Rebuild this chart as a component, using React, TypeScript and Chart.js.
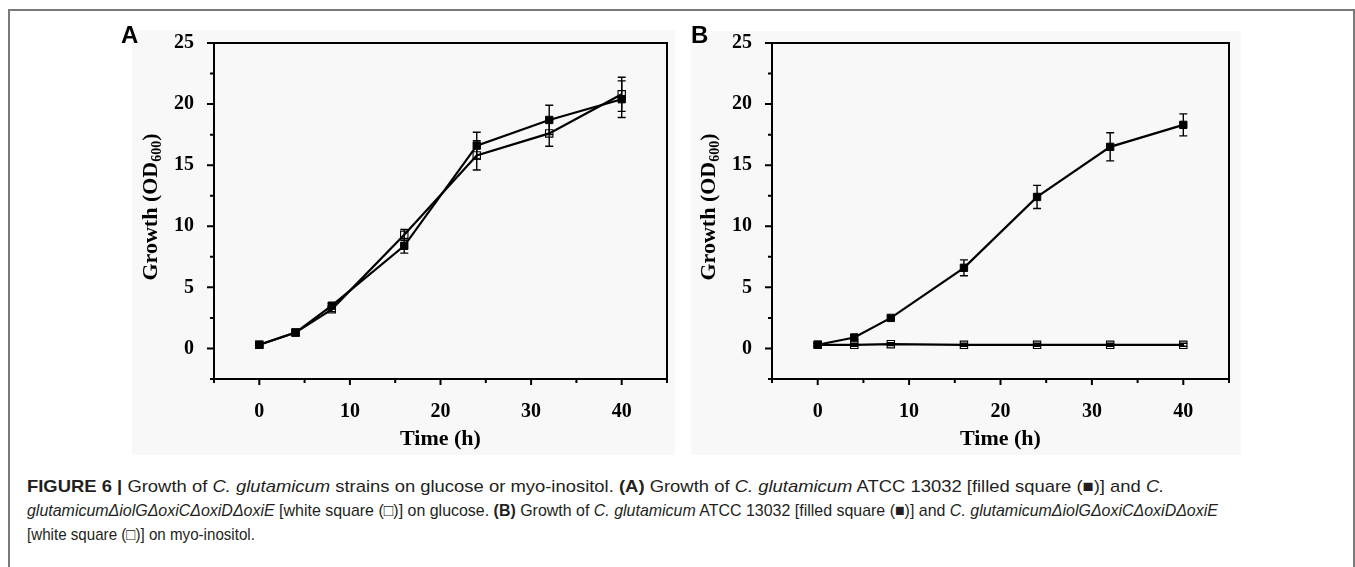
import React, { useEffect, useRef, useLayoutEffect, useState } from 'react';
import { Chart, registerables } from 'chart.js';
Chart.register(...registerables);

// ---- data ----
const timePoints = [0, 4, 8, 16, 24, 32, 40];
const xTickLabels = [0, 10, 20, 30, 40];
const yTickLabels = [0, 5, 10, 15, 20, 25];

const glucoseWT = [0.3, 1.3, 3.5, 8.4, 16.6, 18.7, 20.4];
const glucoseWTErr = [0.15, 0.2, 0.2, 0.6, 1.1, 1.2, 1.5];
const glucoseMut = [0.3, 1.3, 3.2, 9.3, 15.8, 17.6, 20.8];
const glucoseMutErr = [0.15, 0.2, 0.2, 0.45, 1.2, 1.05, 1.4];

const inositolWT = [0.3, 0.9, 2.5, 6.6, 12.4, 16.5, 18.3];
const inositolWTErr = [0.1, 0.15, 0.15, 0.65, 0.95, 1.15, 0.9];
const inositolMut = [0.3, 0.3, 0.35, 0.3, 0.3, 0.3, 0.3];
const inositolMutErr = [0.12, 0.12, 0.12, 0.12, 0.12, 0.12, 0.12];

const xLabel = 'Time (h)';
const yLabelMain = 'Growth (OD';
const yLabelSub = '600';
const yLabelEnd = ')';

const SERIF = '"Liberation Serif", "Times New Roman", serif';

const framePlugin = {
  id: 'framePlugin',
  afterDatasetsDraw(chart: any) {
    const ctx = chart.ctx;
    const ys = chart.scales.y;
    ctx.save();
    ctx.strokeStyle = '#000';
    ctx.lineWidth = 1.4;
    chart.data.datasets.forEach((ds: any, i: number) => {
      const meta = chart.getDatasetMeta(i);
      meta.data.forEach((pt: any, j: number) => {
        const v = ds.data[j].y;
        const e = ds.errors[j];
        const x = pt.x;
        const y1 = ys.getPixelForValue(v + e);
        const y2 = ys.getPixelForValue(v - e);
        ctx.beginPath();
        ctx.moveTo(x, y1);
        ctx.lineTo(x, y2);
        ctx.moveTo(x - 4, y1);
        ctx.lineTo(x + 4, y1);
        ctx.moveTo(x - 4, y2);
        ctx.lineTo(x + 4, y2);
        ctx.stroke();
      });
    });
    ctx.restore();
  },
  afterDraw(chart: any) {
    const ctx = chart.ctx;
    const a = chart.chartArea;
    const xs = chart.scales.x;
    const ys = chart.scales.y;
    ctx.save();
    ctx.strokeStyle = '#000';
    ctx.lineWidth = 2;
    ctx.strokeRect(a.left, a.top, a.right - a.left, a.bottom - a.top);
    ctx.beginPath();
    ys.ticks.forEach((t: any) => {
      const y = ys.getPixelForValue(t.value);
      const major = Math.abs(t.value % 5) < 1e-6;
      ctx.moveTo(a.left, y);
      ctx.lineTo(a.left - (major ? 7 : 4), y);
    });
    xs.ticks.forEach((t: any) => {
      const x = xs.getPixelForValue(t.value);
      const major = Math.abs(t.value % 10) < 1e-6;
      ctx.moveTo(x, a.bottom);
      ctx.lineTo(x, a.bottom + (major ? 6 : 4));
    });
    ctx.stroke();

    // x title
    ctx.fillStyle = '#000';
    ctx.font = `bold 22px ${SERIF}`;
    ctx.textAlign = 'center';
    ctx.textBaseline = 'middle';
    ctx.fillText(xLabel, (a.left + a.right) / 2, a.bottom + 60);

    // y title with subscript
    const mainFont = `bold 22px ${SERIF}`;
    const subFont = `bold 14px ${SERIF}`;
    ctx.font = mainFont;
    const w1 = ctx.measureText(yLabelMain).width;
    const w3 = ctx.measureText(yLabelEnd).width;
    ctx.font = subFont;
    const w2 = ctx.measureText(yLabelSub).width;
    const total = w1 + w2 + w3;
    ctx.translate(a.left - 63, (a.top + a.bottom) / 2 - 4);
    ctx.rotate(-Math.PI / 2);
    ctx.textAlign = 'left';
    ctx.textBaseline = 'middle';
    let x0 = -total / 2;
    ctx.font = mainFont;
    ctx.fillText(yLabelMain, x0, 0);
    x0 += w1;
    ctx.font = subFont;
    ctx.fillText(yLabelSub, x0, 6);
    x0 += w2;
    ctx.font = mainFont;
    ctx.fillText(yLabelEnd, x0, 0);
    ctx.restore();
  },
};

function Panel(props: {
  left: number; width: number; padLeft: number; padRight: number;
  filled: number[]; filledErr: number[]; open: number[]; openErr: number[];
}) {
  const ref = useRef<HTMLCanvasElement>(null);
  useEffect(() => {
    if (!ref.current) return;
    const mk = (vals: number[]) => timePoints.map((t, i) => ({ x: t, y: vals[i] }));
    const chart = new Chart(ref.current, {
      type: 'line',
      data: {
        datasets: [
          {
            data: mk(props.filled),
            errors: props.filledErr,
            borderColor: '#000',
            borderWidth: 2.2,
            pointStyle: 'rect',
            pointRadius: 5.2,
            pointBackgroundColor: '#000',
            pointBorderColor: '#000',
            pointBorderWidth: 1,
            tension: 0,
          } as any,
          {
            data: mk(props.open),
            errors: props.openErr,
            borderColor: '#000',
            borderWidth: 2.2,
            pointStyle: 'rect',
            pointRadius: 5.2,
            pointBackgroundColor: 'rgba(255,255,255,0)',
            pointBorderColor: '#000',
            pointBorderWidth: 1.1,
            tension: 0,
          } as any,
        ],
      },
      options: {
        responsive: false,
        animation: false,
        devicePixelRatio: 1,
        layout: { padding: { left: props.padLeft, right: props.padRight, top: 43, bottom: 51 } },
        plugins: { legend: { display: false }, tooltip: { enabled: false } },
        scales: {
          x: {
            type: 'linear',
            min: -5,
            max: 45,
            afterFit: (s: any) => { s.height = 40; },
            grid: { display: false },
            border: { display: false },
            ticks: {
              stepSize: 5,
              autoSkip: false,
              maxRotation: 0,
              padding: 13,
              color: '#000',
              font: { family: SERIF, weight: 'bold', size: 20 },
              callback: (v: any) => (xTickLabels.includes(Number(v)) ? String(v) : ''),
            },
          },
          y: {
            type: 'linear',
            min: -2.5,
            max: 25,
            afterFit: (s: any) => { s.width = 80; },
            grid: { display: false },
            border: { display: false },
            ticks: {
              stepSize: 2.5,
              autoSkip: false,
              padding: 12,
              color: '#000',
              font: { family: SERIF, weight: 'bold', size: 20 },
              callback: (v: any) => (yTickLabels.includes(Number(v)) ? String(v) : ''),
            },
          },
        },
      } as any,
      plugins: [framePlugin],
    });
    return () => chart.destroy();
  }, []);
  return (
    <canvas
      ref={ref}
      width={props.width}
      height={470}
      style={{ position: 'absolute', left: props.left, top: 0, width: props.width, height: 470 }}
    />
  );
}

function FitLine(props: { top: number; width: number; children: React.ReactNode }) {
  const ref = useRef<HTMLSpanElement>(null);
  const [scale, setScale] = useState(1);
  useLayoutEffect(() => {
    if (ref.current) {
      const w = ref.current.offsetWidth;
      if (w > 0) setScale(props.width / w);
    }
  }, []);
  return (
    <div
      style={{
        position: 'absolute', left: 27, top: props.top, whiteSpace: 'nowrap',
        transformOrigin: '0 0', transform: `scaleX(${scale})`,
        fontSize: 17, lineHeight: '24px', color: '#231f20',
      }}
    >
      <span ref={ref}>{props.children}</span>
    </div>
  );
}

const geneName = 'glutamicumΔiolGΔoxiCΔoxiDΔoxiE';

export default function App() {
  return (
    <div
      style={{
        position: 'absolute', left: 0, top: 0, width: 1355, height: 567, background: '#fff',
        overflow: 'hidden', fontFamily: '"Liberation Sans", Arial, sans-serif',
      }}
    >
      <div
        style={{
          position: 'absolute', left: 8, top: 9, width: 1343, height: 700,
          borderTop: '2px solid #7a7a7a', borderLeft: '2px solid #7a7a7a', borderRight: '2px solid #7a7a7a',
        }}
      />
      <div style={{ position: 'absolute', left: 132, top: 30, width: 543, height: 425, background: '#f8f8f8' }} />
      <div style={{ position: 'absolute', left: 691, top: 31, width: 550, height: 424, background: '#f8f8f8' }} />
      <Panel left={0} width={680} padLeft={134} padRight={10}
        filled={glucoseWT} filledErr={glucoseWTErr} open={glucoseMut} openErr={glucoseMutErr} />
      <Panel left={680} width={675} padLeft={12} padRight={126}
        filled={inositolWT} filledErr={inositolWTErr} open={inositolMut} openErr={inositolMutErr} />
      <div style={{ position: 'absolute', left: 121, top: 21, fontWeight: 'bold', fontSize: 24, lineHeight: '28px', color: '#000' }}>A</div>
      <div style={{ position: 'absolute', left: 691, top: 21, fontWeight: 'bold', fontSize: 24, lineHeight: '28px', color: '#000' }}>B</div>

      <FitLine top={475} width={1137}>
        <b>FIGURE 6 |</b> Growth of <i>C. glutamicum</i> strains on glucose or myo-inositol. <b>(A)</b> Growth of{' '}
        <i>C. glutamicum</i> ATCC 13032 [filled square (■)] and <i>C.</i>
      </FitLine>
      <FitLine top={499} width={1191}>
        <i>{geneName}</i> [white square (□)] on glucose. <b>(B)</b> Growth of <i>C. glutamicum</i> ATCC 13032
        [filled square (■)] and <i>C. {geneName}</i>
      </FitLine>
      <FitLine top={523} width={228}>
        [white square (□)] on myo-inositol.
      </FitLine>
    </div>
  );
}
